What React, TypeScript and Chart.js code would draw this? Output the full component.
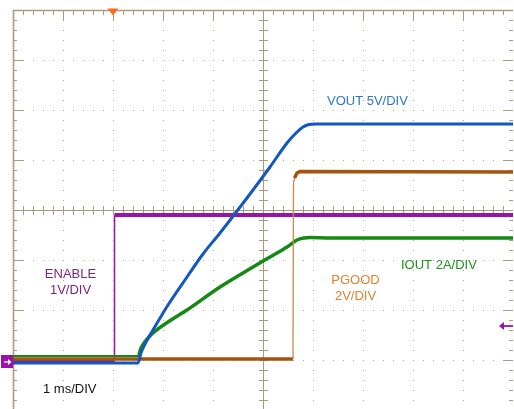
import React, { useEffect, useRef } from "react";
import { Chart, registerables } from "chart.js";

Chart.register(...registerables);

// Time axis: milliseconds (1 ms/DIV, 10 divisions). Vertical: screen divisions (-4..4).
const enableTime = [0, 2.03, 2.03, 10];
const enableDiv = [-3.03, -3.03, -0.1, -0.1];

const voutTime = [0, 2.5, 2.56, 2.62, 2.7, 2.8, 3.1, 3.48, 3.8, 4.14, 4.8, 5.14, 5.48, 5.66, 5.8, 5.92, 6.05, 10];
const voutDiv = [-3.06, -3.06, -2.86, -2.72, -2.57, -2.4, -1.9, -1.34, -0.88, -0.46, 0.4, 0.86, 1.34, 1.54, 1.66, 1.71, 1.72, 1.72];

const ioutTime = [0, 2.5, 2.56, 2.62, 2.7, 2.8, 3.1, 3.48, 4.14, 4.8, 5.14, 5.48, 5.68, 5.82, 5.94, 6.34, 10];
const ioutDiv = [-2.92, -2.92, -2.76, -2.66, -2.56, -2.46, -2.24, -2.0, -1.54, -1.14, -0.94, -0.74, -0.6, -0.56, -0.55, -0.56, -0.56];

const pgoodTime = [0, 5.6, 5.61, 5.63, 5.68, 5.74, 10];
const pgoodDiv = [-2.98, -2.98, 0.54, 0.64, 0.74, 0.77, 0.76];

const channelLabels = [
  { lines: ["VOUT 5V/DIV"], color: "#2a78cc", t: 6.28, v: 2.1, align: "left" },
  { lines: ["ENABLE", "1V/DIV"], color: "#7d2384", t: 1.15, v: -1.36, align: "center" },
  { lines: ["PGOOD", "2V/DIV"], color: "#e28132", t: 6.85, v: -1.47, align: "center" },
  { lines: ["IOUT 2A/DIV"], color: "#1b941b", t: 7.76, v: -1.18, align: "left" },
  { lines: ["1 ms/DIV"], color: "#111111", t: 0.6, v: -3.66, align: "left" },
];

const GRID = "#a99c7c";
const DOT = "#b3a88d";

const pts = (ts: number[], vs: number[]) => ts.map((t, i) => ({ x: t, y: vs[i] }));

const scopePlugin = {
  id: "scope",
  beforeDatasetsDraw(chart: any) {
    const { ctx, scales } = chart;
    const xs = scales.x;
    const ys = scales.y;
    const L = xs.getPixelForValue(0);
    const R = xs.getPixelForValue(10);
    const T = ys.getPixelForValue(4);
    const B = ys.getPixelForValue(-4);
    const cx = xs.getPixelForValue(5);
    const cy = ys.getPixelForValue(0);
    ctx.save();
    // dotted grid
    ctx.fillStyle = DOT;
    for (let d = 1; d < 10; d++) {
      if (d === 5) continue;
      const x = Math.round(xs.getPixelForValue(d));
      for (let k = 1; k < 40; k++) {
        const y = Math.round(ys.getPixelForValue(4 - k * 0.2));
        ctx.fillRect(x, y, 1, 1);
      }
    }
    for (let d = -3; d <= 3; d++) {
      if (d === 0) continue;
      const y = Math.round(ys.getPixelForValue(d));
      for (let k = 1; k < 50; k++) {
        const x = Math.round(xs.getPixelForValue(k * 0.2));
        ctx.fillRect(x, y, 1, 1);
      }
    }
    ctx.strokeStyle = GRID;
    ctx.lineWidth = 1;
    // center cross
    ctx.beginPath();
    ctx.moveTo(Math.round(cx) + 0.5, T);
    ctx.lineTo(Math.round(cx) + 0.5, B);
    ctx.moveTo(L, Math.round(cy) + 0.5);
    ctx.lineTo(R, Math.round(cy) + 0.5);
    for (let k = 1; k < 50; k++) {
      const x = Math.round(xs.getPixelForValue(k * 0.2)) + 0.5;
      ctx.moveTo(x, cy - 4);
      ctx.lineTo(x, cy + 5);
      const len = k % 5 === 0 ? 11 : 5;
      ctx.moveTo(x, T);
      ctx.lineTo(x, T + len);
    }
    for (let k = 1; k < 40; k++) {
      const y = Math.round(ys.getPixelForValue(4 - k * 0.2)) + 0.5;
      ctx.moveTo(cx - 4, y);
      ctx.lineTo(cx + 5, y);
      const len = k % 5 === 0 ? 10 : 4;
      ctx.moveTo(L, y);
      ctx.lineTo(L + len, y);
      ctx.moveTo(R, y);
      ctx.lineTo(R - len, y);
    }
    ctx.stroke();
    // border (left and top)
    ctx.lineWidth = 1.6;
    ctx.beginPath();
    ctx.moveTo(L + 0.5, B);
    ctx.lineTo(L + 0.5, T + 0.5);
    ctx.lineTo(R, T + 0.5);
    ctx.stroke();
    ctx.restore();
  },
  afterDraw(chart: any) {
    const { ctx, scales } = chart;
    const xs = scales.x;
    const ys = scales.y;
    ctx.save();
    // labels
    ctx.font = "13px 'Liberation Sans', Arial, sans-serif";
    ctx.textBaseline = "alphabetic";
    channelLabels.forEach((lb) => {
      ctx.fillStyle = lb.color;
      ctx.textAlign = lb.align as CanvasTextAlign;
      const x = xs.getPixelForValue(lb.t);
      const y = ys.getPixelForValue(lb.v);
      lb.lines.forEach((s, i) => ctx.fillText(s, x, y + i * 16));
    });
    // trigger marker (top)
    const tx = xs.getPixelForValue(2);
    const T = ys.getPixelForValue(4);
    ctx.fillStyle = "#ff6a1a";
    ctx.beginPath();
    ctx.moveTo(tx - 5.5, T - 1.5);
    ctx.lineTo(tx + 5.5, T - 1.5);
    ctx.lineTo(tx, T + 5.5);
    ctx.closePath();
    ctx.fill();
    // channel ground marker (left)
    const gy = ys.getPixelForValue(-3.03);
    const L = xs.getPixelForValue(0);
    ctx.fillStyle = "#9a12a6";
    ctx.fillRect(1, gy - 6.5, L - 1, 13);
    ctx.strokeStyle = "#ffffff";
    ctx.fillStyle = "#ffffff";
    ctx.lineWidth = 1.2;
    ctx.beginPath();
    ctx.moveTo(4, gy + 0.5);
    ctx.lineTo(10, gy + 0.5);
    ctx.stroke();
    ctx.beginPath();
    ctx.moveTo(11.5, gy + 0.5);
    ctx.lineTo(8, gy - 2.5);
    ctx.lineTo(8, gy + 3.5);
    ctx.closePath();
    ctx.fill();
    // trigger level marker (right)
    const ry = ys.getPixelForValue(-2.32);
    const R = xs.getPixelForValue(10);
    ctx.strokeStyle = "#9a12a6";
    ctx.fillStyle = "#9a12a6";
    ctx.lineWidth = 1.8;
    ctx.beginPath();
    ctx.moveTo(R - 10, ry);
    ctx.lineTo(R, ry);
    ctx.stroke();
    ctx.beginPath();
    ctx.moveTo(R - 14, ry);
    ctx.lineTo(R - 9, ry - 4);
    ctx.lineTo(R - 9, ry + 4);
    ctx.closePath();
    ctx.fill();
    ctx.restore();
  },
};

const isVertical = (c: any) => Math.abs(c.p0.parsed.x - c.p1.parsed.x) < 0.02;

export default function App() {
  const ref = useRef<HTMLCanvasElement | null>(null);
  useEffect(() => {
    if (!ref.current) return;
    const chart = new Chart(ref.current, {
      type: "line",
      data: {
        datasets: [
          {
            label: "VOUT",
            data: pts(voutTime, voutDiv),
            borderColor: "#1257c4",
            borderWidth: 3,
            cubicInterpolationMode: "monotone",
          },
          {
            label: "PGOOD",
            data: pts(pgoodTime, pgoodDiv),
            borderColor: "#a3540e",
            borderWidth: 3.5,
            segment: {
              borderWidth: (c: any) => (isVertical(c) ? 1.3 : 3.5),
              borderColor: (c: any) => (isVertical(c) ? "#c48a55" : "#a3540e"),
            },
          },
          {
            label: "IOUT",
            data: pts(ioutTime, ioutDiv),
            borderColor: "#148a14",
            borderWidth: 3.5,
            cubicInterpolationMode: "monotone",
            segment: {
              borderWidth: (c: any) => (c.p1.parsed.x <= 2.5 ? 2 : 3.5),
            },
          },
          {
            label: "ENABLE",
            data: pts(enableTime, enableDiv),
            borderColor: "#9a12a6",
            borderWidth: 4,
            segment: { borderWidth: (c: any) => (isVertical(c) ? 1.5 : 4) },
          },
        ],
      },
      options: {
        animation: false,
        responsive: false,
        layout: { padding: { left: 13, top: 10, right: 1, bottom: 10 } },
        elements: { point: { radius: 0 }, line: { tension: 0, borderJoinStyle: "round" } },
        plugins: { legend: { display: false }, tooltip: { enabled: false } },
        scales: {
          x: { type: "linear", min: 0, max: 10, display: false },
          y: { type: "linear", min: -4, max: 4, display: false },
        },
      },
      plugins: [scopePlugin],
    });
    return () => chart.destroy();
  }, []);
  return (
    <div style={{ position: "fixed", left: 0, top: 0, width: 514, height: 420, background: "#fff" }}>
      <canvas ref={ref} width={514} height={420} style={{ display: "block" }} />
    </div>
  );
}
